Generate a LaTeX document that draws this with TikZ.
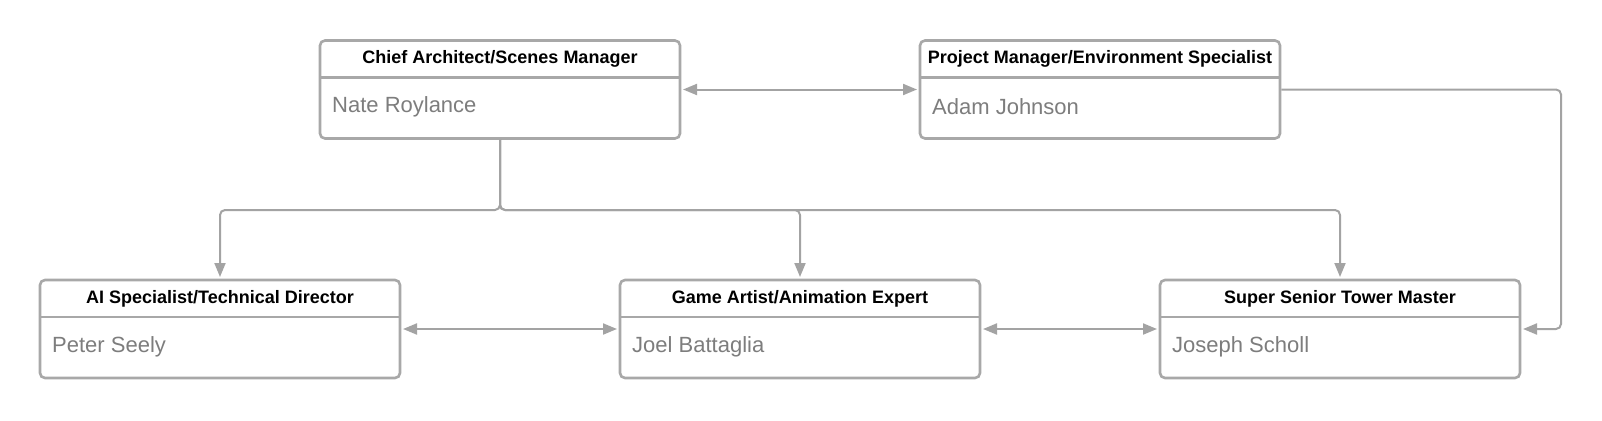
\documentclass[tikz,border=0pt]{standalone}
\usepackage{fontspec}
\setmainfont{Liberation Sans}
\usetikzlibrary{arrows.meta,calc}
\definecolor{linegray}{RGB}{163,163,163}
\definecolor{boxgray}{RGB}{168,168,168}
\definecolor{namegray}{RGB}{125,125,125}
\newcommand{\orgbox}[4]{%
  \node[orgnode] (#1) at (#2) {};
  \draw[boxgray,line width=2.6pt] ([yshift=-37pt]#1.north west) -- ([yshift=-37pt]#1.north east);
  \node[titletext] (#1-t) at ([yshift=-18.5pt]#1.north) {#3};
  \node[nametext] (#1-n) at ([xshift=12pt,yshift=-17.5pt]#1.west) {#4};
}
\begin{document}
\begin{tikzpicture}[x=1pt,y=-1pt,
  orgnode/.style={draw=boxgray,line width=2.6pt,rounded corners=5pt,fill=white,
    minimum width=360pt,minimum height=98pt,inner sep=0pt,outer sep=0pt},
  titletext/.style={font=\fontsize{18}{20}\selectfont\bfseries,text=black,inner sep=0pt},
  nametext/.style={font=\fontsize{22}{24}\selectfont,text=namegray,anchor=west,inner sep=0pt},
  conn/.style={draw=linegray,line width=2pt,rounded corners=5pt},
  tip/.style={-{Triangle[length=14pt,width=11pt]},shorten >=3pt},
  dtip/.style={{Triangle[length=14pt,width=11pt]}-{Triangle[length=14pt,width=11pt]},shorten >=3pt,shorten <=3pt}
]
\useasboundingbox (0,0) rectangle (1602,420);
\orgbox{chief}{500,89.5}{Chief Architect/Scenes Manager}{Nate Roylance}
\orgbox{pm}{1100,89.5}{Project Manager/Environment Specialist}{Adam Johnson}
\orgbox{ai}{220,329}{AI Specialist/Technical Director}{Peter Seely}
\orgbox{game}{800,329}{Game Artist/Animation Expert}{Joel Battaglia}
\orgbox{sup}{1340,329}{Super Senior Tower Master}{Joseph Scholl}
\coordinate (bus) at (500,210);
\coordinate (rt) at (1561,210);
% horizontal links
\draw[conn,dtip] (chief.east) -- (pm.west);
\draw[conn,dtip] (ai.east) -- (game.west);
\draw[conn,dtip] (game.east) -- (sup.west);
% PM to Super
\draw[conn,tip] ([xshift=1.3pt]pm.east) -| (rt) |- (sup.east);
% tree
\draw[conn,tip] ([yshift=-1.3pt]chief.south) |- (ai.north |- bus) -- (ai.north);
\draw[conn,tip] ([yshift=-1.3pt]chief.south) |- (game.north |- bus) -- (game.north);
\draw[conn,tip] ([yshift=-1.3pt]chief.south) |- (sup.north |- bus) -- (sup.north);
\end{tikzpicture}
\end{document}
